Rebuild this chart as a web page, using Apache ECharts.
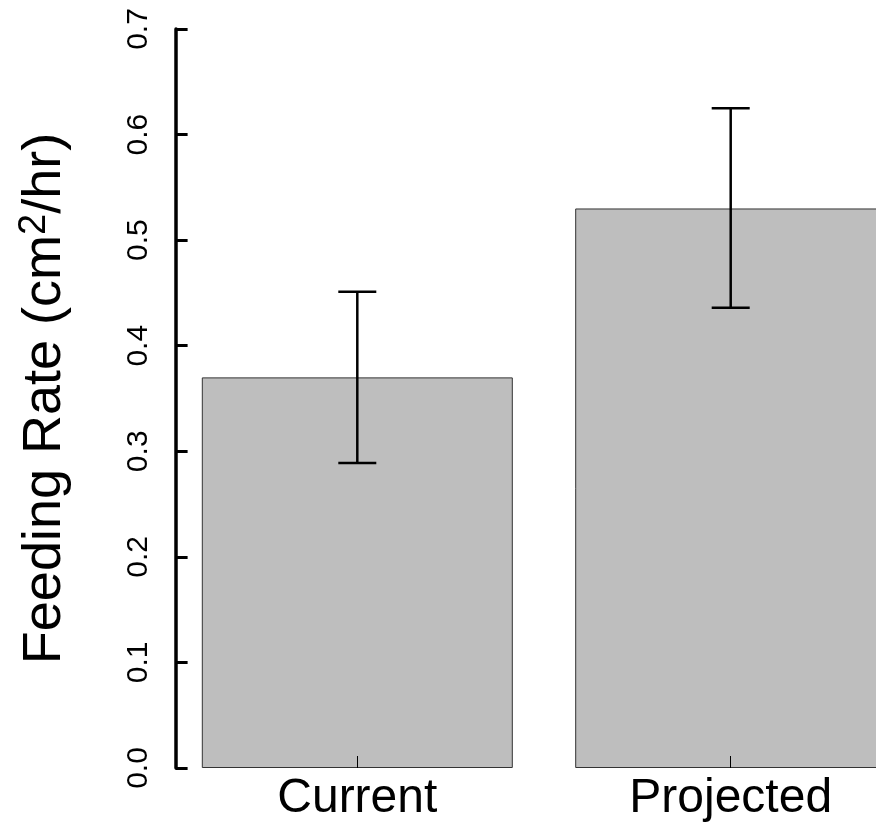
<!DOCTYPE html>
<html>
<head>
<meta charset="utf-8">
<script src="https://cdn.jsdelivr.net/npm/echarts@6/dist/echarts.min.js"></script>
<style>
  html, body { margin: 0; padding: 0; background: #fff; }
  #chart { width: 876px; height: 827px; }
</style>
</head>
<body>
<div id="chart"></div>
<script>
// datos
const categories = ['Current', 'Projected'];
const feedingRate = [0.370, 0.530];
const errLow = [0.289, 0.436];
const errHigh = [0.451, 0.625];
const yTicks = [0, 0.1, 0.2, 0.3, 0.4, 0.5, 0.6, 0.7];

const chart = echarts.init(document.getElementById('chart'));

const errData = categories.map((c, i) => [i, errLow[i], errHigh[i]]);

const options = {
  backgroundColor: '#ffffff',
  animation: false,
  textStyle: { fontFamily: 'Liberation Sans, Arial, sans-serif', color: '#000' },
  // la segunda barra se sale por la derecha, como en el original
  grid: { left: 170.6, right: -41.4, top: 29, bottom: 59, outerBoundsMode: 'none', containLabel: false },
  xAxis: {
    type: 'category',
    data: categories,
    boundaryGap: true,
    z: 10,
    axisLine: { show: false },
    axisTick: { show: true, inside: true, alignWithLabel: true, length: 12, lineStyle: { color: '#000', width: 1 } },
    axisLabel: { fontSize: 48, color: '#000', margin: 7, fontFamily: 'Liberation Sans' },
    splitLine: { show: false }
  },
  yAxis: {
    type: 'value',
    min: 0,
    max: 0.7,
    interval: 0.1,
    offset: -5,
    z: 10,
    splitLine: { show: false },
    axisLine: { show: true, lineStyle: { color: '#000', width: 3.5 } },
    axisTick: { show: true, inside: true, length: 12, lineStyle: { color: '#000', width: 3 } },
    axisLabel: {
      fontSize: 30,
      color: '#000',
      rotate: 90,
      margin: 22,
      fontFamily: 'Liberation Sans',
      formatter: v => yTicks.includes(Math.round(v * 10) / 10) ? v.toFixed(1) : ''
    },
    name: '{a|Feeding Rate (cm}{s|2}{a|/hr)}',
    nameLocation: 'middle',
    nameRotate: 90,
    nameGap: 100,
    nameTextStyle: {
      rich: {
        a: { fontSize: 54, lineHeight: 60, color: '#000', fontFamily: 'Liberation Sans', verticalAlign: 'middle' },
        s: { fontSize: 38, lineHeight: 20, color: '#000', fontFamily: 'Liberation Sans', verticalAlign: 'top' }
      }
    }
  },
  series: [
    {
      name: 'Feeding Rate',
      type: 'bar',
      data: feedingRate,
      barWidth: 311,
      itemStyle: { color: '#bebebe', borderColor: '#333', borderWidth: 1 },
      z: 1
    },
    {
      name: 'error',
      type: 'custom',
      data: errData,
      z: 5,
      renderItem: (params, api) => {
        const x = api.value(0);
        const lo = api.coord([x, api.value(1)]);
        const hi = api.coord([x, api.value(2)]);
        const half = 19;
        const style = { stroke: '#000', lineWidth: 2.5 };
        return {
          type: 'group',
          children: [
            { type: 'line', shape: { x1: lo[0], y1: lo[1], x2: hi[0], y2: hi[1] }, style },
            { type: 'line', shape: { x1: hi[0] - half, y1: hi[1], x2: hi[0] + half, y2: hi[1] }, style },
            { type: 'line', shape: { x1: lo[0] - half, y1: lo[1], x2: lo[0] + half, y2: lo[1] }, style }
          ]
        };
      }
    }
  ]
};

chart.setOption(options);
</script>
</body>
</html>
